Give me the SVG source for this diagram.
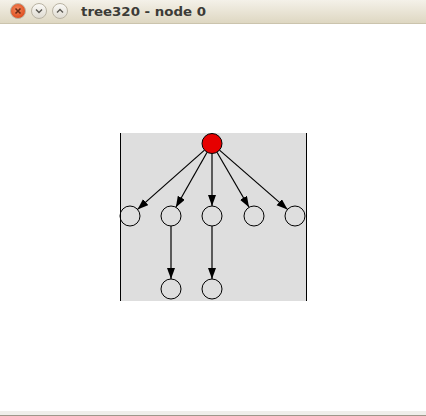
<svg xmlns="http://www.w3.org/2000/svg" width="426" height="416" viewBox="0 0 426 416">
  <style>
    .node { fill: none; stroke: #000; stroke-width: 1; }
    .root { fill: #e60000; stroke: #000; stroke-width: 1; }
    .edge { stroke: #000; stroke-width: 1.2; fill: none; }
    .title { font-family: "DejaVu Sans", "Liberation Sans", sans-serif; font-weight: bold; font-size: 12.5px; fill: #3c3b37; }
  </style>
  <defs>
    <linearGradient id="tb" x1="0" y1="0" x2="0" y2="1">
      <stop offset="0" stop-color="#f4f1e9"/>
      <stop offset="1" stop-color="#ddd6c0"/>
    </linearGradient>
    <radialGradient id="closeg" cx="0.45" cy="0.4" r="0.6">
      <stop offset="0" stop-color="#f58a5e"/>
      <stop offset="1" stop-color="#dd4a1c"/>
    </radialGradient>
    <linearGradient id="btng" x1="0" y1="0" x2="0" y2="1">
      <stop offset="0" stop-color="#fbfaf7"/>
      <stop offset="1" stop-color="#dedad0"/>
    </linearGradient>
    <marker id="arr" markerUnits="userSpaceOnUse" markerWidth="12" markerHeight="9" refX="11" refY="4" orient="auto">
      <path d="M0,0 L11,4 L0,8 z" fill="#000"/>
    </marker>
  </defs>

  <rect x="0" y="0" width="426" height="416" fill="#ffffff"/>

  <g id="window-chrome">
    <rect x="0" y="0" width="426" height="24" fill="url(#tb)"/>
    <line x1="0" y1="23.5" x2="426" y2="23.5" stroke="#cbc4ad"/>
    <circle cx="18" cy="11" r="7.5" fill="url(#closeg)" stroke="#b9b3a3"/>
    <path d="M15.5,8.5 L20.5,13.5 M20.5,8.5 L15.5,13.5" stroke="#6a2a14" stroke-width="1.6"/>
    <circle cx="39" cy="11" r="7.5" fill="url(#btng)" stroke="#b9b3a3"/>
    <path d="M36,9.5 L39,12.5 L42,9.5" fill="none" stroke="#5a5852" stroke-width="1.4"/>
    <circle cx="60" cy="11" r="7.5" fill="url(#btng)" stroke="#b9b3a3"/>
    <path d="M57,12.5 L60,9.5 L63,12.5" fill="none" stroke="#5a5852" stroke-width="1.4"/>
    <text class="title" x="81" y="16" textLength="125" lengthAdjust="spacingAndGlyphs">tree320 - node 0</text>
    <rect x="0" y="411" width="426" height="4" fill="#efeeea"/>
    <line x1="0" y1="415.5" x2="426" y2="415.5" stroke="#9d978a"/>
  </g>

  <g id="panel">
    <rect x="120" y="133" width="187" height="168" fill="#dedede"/>
    <line x1="120.5" y1="133" x2="120.5" y2="301" stroke="#000"/>
    <line x1="306.5" y1="133" x2="306.5" y2="301" stroke="#000"/>
  </g>

  <g id="connectors">
    <line class="edge" x1="204.5" y1="150.1" x2="137.5" y2="209.4" marker-end="url(#arr)"/>
    <line class="edge" x1="207.1" y1="152.2" x2="175.9" y2="207.3" marker-end="url(#arr)"/>
    <line class="edge" x1="212" y1="153.5" x2="212" y2="206" marker-end="url(#arr)"/>
    <line class="edge" x1="217" y1="152.2" x2="249" y2="207.3" marker-end="url(#arr)"/>
    <line class="edge" x1="219.5" y1="150.1" x2="287.5" y2="209.4" marker-end="url(#arr)"/>
    <line class="edge" x1="171" y1="226" x2="171" y2="279" marker-end="url(#arr)"/>
    <line class="edge" x1="212" y1="226" x2="212" y2="279" marker-end="url(#arr)"/>
  </g>

  <g id="node0"><circle class="root" cx="212" cy="143.5" r="10"/></g>
  <g id="node1"><circle class="node" cx="130" cy="216" r="10"/></g>
  <g id="node2"><circle class="node" cx="171" cy="216" r="10"/></g>
  <g id="node3"><circle class="node" cx="212" cy="216" r="10"/></g>
  <g id="node4"><circle class="node" cx="254" cy="216" r="10"/></g>
  <g id="node5"><circle class="node" cx="295" cy="216" r="10"/></g>
  <g id="node6"><circle class="node" cx="171" cy="289" r="10"/></g>
  <g id="node7"><circle class="node" cx="212" cy="289" r="10"/></g>
</svg>
